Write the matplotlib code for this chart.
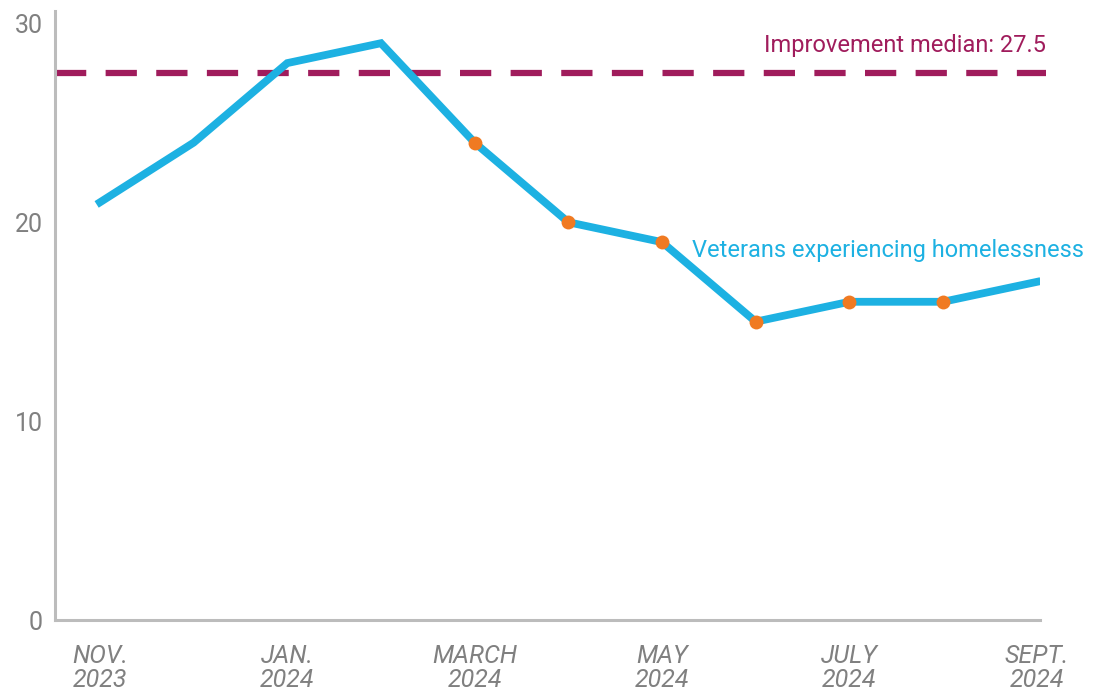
import numpy as np
import matplotlib
matplotlib.use("Agg")
import matplotlib.pyplot as plt

plt.rcParams['font.family'] = ['Liberation Sans Narrow', 'Roboto', 'DejaVu Sans']

months = ["NOV.\n2023", "DEC.\n2023", "JAN.\n2024", "FEB.\n2024", "MARCH\n2024", "APRIL\n2024",
          "MAY\n2024", "JUNE\n2024", "JULY\n2024", "AUG.\n2024", "SEPT.\n2024"]
veterans = [21, 24, 28, 29, 24, 20, 19, 15, 16, 16, 17]
flagged = [False, False, False, False, True, True, True, True, True, True, False]
median = 27.5

blue = "#1db1e2"
orange = "#f07a22"
plum = "#a01c5c"
grey = "#808080"

fig = plt.figure(figsize=(10.95, 6.98), dpi=100)
ax = fig.add_axes([0.0502, 0.1117, 0.9, 0.872])

x = np.arange(len(veterans))
ax.plot(x, veterans, color=blue, lw=5.6, solid_joinstyle='miter', zorder=3)
fx = x[np.array(flagged)]
fy = np.array(veterans)[np.array(flagged)]
ax.plot(fx, fy, 'o', color=orange, ms=10, mec='none', zorder=4)

ax.hlines(median, -0.48, 10.1, colors=plum, lw=4.5, linestyles=(0, (5, 3.1)),
          clip_on=False, zorder=2)
ax.text(10.1, 28.9, "Improvement median: 27.5", color=plum, fontsize=17,
        ha='right', va='center')
ax.text(10.5, 18.6, "Veterans experiencing homelessness", color=blue, fontsize=17,
        ha='right', va='center', clip_on=False)

ax.set_xlim(-0.48, 10.04)
ax.set_ylim(0, 30.6)
ax.set_yticks([0, 10, 20, 30])
ax.set_xticks(x[::2])
ax.set_xticklabels(months[::2], style='italic', linespacing=1.0)
ax.tick_params(axis='both', length=0, labelsize=18, labelcolor=grey)
ax.tick_params(axis='y', pad=9)
ax.tick_params(axis='x', pad=17)

for s in ['top', 'right']:
    ax.spines[s].set_visible(False)
for s in ['left', 'bottom']:
    ax.spines[s].set_color("#bcbcbc")
    ax.spines[s].set_linewidth(2.2)

fig.savefig("out.png", dpi=100)
